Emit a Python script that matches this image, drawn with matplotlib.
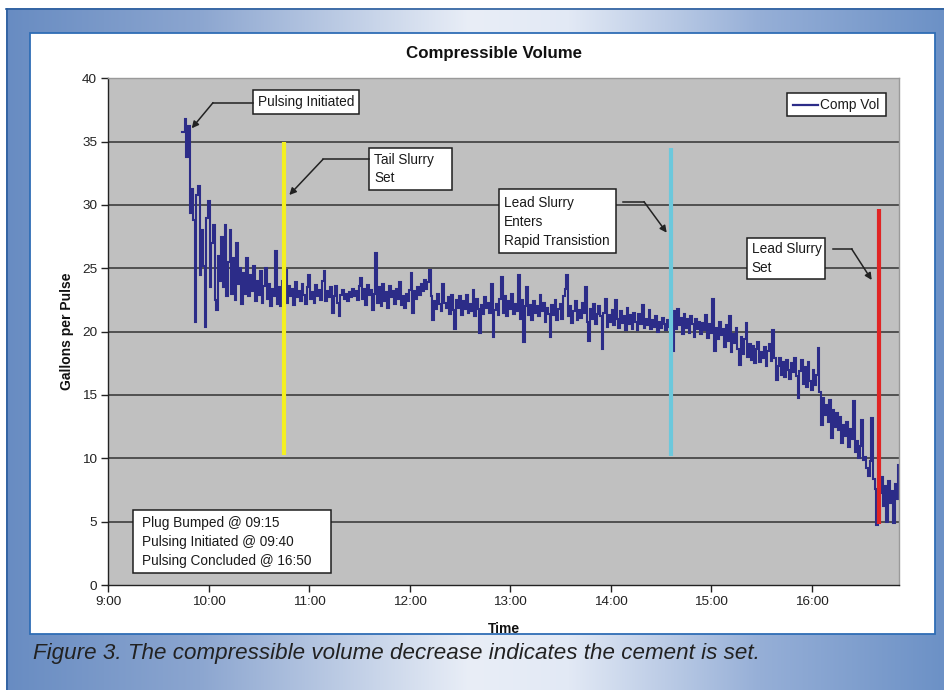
import numpy as np
import matplotlib
matplotlib.use("Agg")
import matplotlib.pyplot as plt
from matplotlib.patches import Rectangle

# ---------------- data ----------------
chart_title = "Compressible Volume"
series_name = "Comp Vol"
x_label = "Time"
y_label = "Gallons per Pulse"
start_time = "09:44"      # first sample
sample_step_min = 1       # one sample per minute
comp_vol = [
    35.8, 35.8, 36.8, 33.8, 36.2, 29.4, 31.3, 28.8, 20.8, 30.8,
    31.5, 24.5, 28.0, 25.2, 20.4, 29.0, 30.3, 23.5, 27.0, 28.4,
    22.5, 21.7, 26.0, 24.0, 27.5, 23.5, 28.4, 22.8, 25.5, 28.0,
    23.0, 25.8, 22.5, 27.0, 23.8, 25.0, 22.2, 24.6, 23.0, 25.8,
    22.8, 24.5, 23.2, 25.2, 22.4, 24.0, 22.9, 24.8, 22.3, 23.6,
    25.0, 22.6, 23.8, 22.0, 23.4, 22.8, 26.4, 22.2, 23.5, 22.0,
    24.0, 22.6, 24.9, 22.3, 23.6, 22.8, 23.4, 22.1, 23.9, 22.7,
    23.2, 22.4, 23.8, 22.9, 22.2, 23.5, 24.5, 22.6, 23.1, 22.3,
    23.7, 22.8, 23.3, 22.5, 24.0, 24.8, 22.4, 23.2, 22.7, 23.5,
    21.5, 22.8, 23.6, 22.3, 21.2, 22.9, 23.3, 22.6, 23.0, 22.4,
    23.1, 22.7, 23.4, 22.8, 23.2, 22.5, 23.6, 24.2, 22.6, 23.4,
    22.1, 23.7, 22.9, 23.3, 21.7, 23.0, 26.2, 22.3, 23.5, 22.0,
    23.8, 22.4, 23.1, 21.9, 23.6, 22.7, 23.2, 22.2, 23.4, 22.6,
    23.9, 22.1, 22.8, 21.9, 23.0, 22.4, 23.3, 24.6, 21.5, 23.2,
    22.6, 23.5, 22.9, 23.8, 23.2, 24.1, 23.4, 23.9, 24.9, 22.8,
    20.9, 22.4, 21.8, 23.0, 22.2, 21.6, 23.8, 22.3, 21.9, 22.7,
    21.4, 22.9, 21.7, 20.2, 22.5, 21.9, 22.8, 21.3, 22.4, 21.8,
    22.9, 21.5, 22.2, 21.6, 23.3, 21.2, 22.6, 21.8, 19.9, 22.1,
    21.4, 22.7, 21.9, 22.3, 21.5, 23.8, 19.6, 21.7, 22.2, 21.3,
    22.6, 24.3, 21.5, 22.8, 21.2, 22.4, 21.8, 23.0, 21.4, 22.2,
    21.6, 24.5, 21.0, 22.5, 19.2, 22.0, 23.5, 21.3, 22.1, 20.9,
    22.4, 21.5, 22.0, 21.2, 22.9, 21.6, 22.3, 20.8, 21.9, 21.4,
    19.6, 22.1, 21.3, 22.5, 20.9, 21.8, 22.2, 21.0, 22.8, 23.4,
    24.5, 21.2, 22.0, 20.7, 21.6, 22.4, 20.9, 21.7, 21.1, 22.3,
    21.5, 23.5, 20.8, 19.3, 21.8, 21.0, 22.2, 20.6, 21.4, 22.0,
    21.2, 18.6, 21.5, 22.6, 20.4, 21.3, 20.8, 21.7, 20.5, 22.5,
    21.0, 20.3, 21.6, 20.7, 21.2, 20.1, 21.9, 20.6, 21.3, 20.2,
    21.5, 20.8, 20.1, 21.4, 20.6, 22.1, 20.3, 21.0, 20.5, 21.7,
    20.2, 20.9, 20.4, 21.2, 20.0, 20.8, 20.3, 21.1, 20.6, 20.1,
    20.9, 20.4, 20.7, 18.5, 21.6, 20.2, 21.8, 20.5, 21.1, 19.8,
    21.4, 20.3, 21.0, 19.9, 21.2, 20.6, 19.6, 21.0, 20.2, 20.8,
    19.8, 20.7, 20.1, 21.3, 19.5, 20.6, 19.9, 22.6, 18.5, 20.3,
    19.4, 20.8, 19.7, 20.2, 18.8, 20.5, 19.3, 21.2, 18.4, 19.8,
    19.1, 20.3, 18.6, 17.4, 19.6, 18.2, 19.4, 20.7, 18.0, 19.0,
    17.8, 18.9, 17.5, 18.6, 19.2, 17.6, 18.4, 17.9, 18.8, 17.3,
    18.5, 19.0, 17.7, 20.1, 17.9, 16.2, 17.3, 17.9, 16.6, 17.6,
    16.4, 17.8, 17.0, 16.3, 17.5, 16.8, 17.9, 16.5, 14.8, 16.9,
    17.8, 15.9, 17.2, 15.6, 17.6, 16.1, 15.4, 17.0, 15.8, 16.6,
    18.7, 15.2, 12.6, 14.8, 13.4, 14.2, 12.9, 14.6, 11.6, 13.8,
    12.5, 13.6, 12.2, 13.3, 11.2, 12.6, 11.8, 12.9, 10.9, 12.3,
    11.5, 14.5, 10.5, 11.4, 10.0, 11.0, 13.0, 9.9, 10.1, 9.2,
    8.6, 9.8, 13.2, 8.4, 7.6, 4.7, 8.3, 7.3, 8.5, 6.2,
    7.8, 5.0, 8.2, 6.5, 7.4, 4.9, 8.0, 6.8, 9.5,
]
x_tick_labels = ["9:00", "10:00", "11:00", "12:00", "13:00", "14:00", "15:00", "16:00"]
x_end_time = "16:52"
y_ticks = [0, 5, 10, 15, 20, 25, 30, 35, 40]

event_labels = ["Tail Slurry\nSet", "Lead Slurry\nEnters\nRapid Transistion", "Lead Slurry\nSet"]
event_times = ["10:45", "14:36", "16:40"]
event_tops = [35.0, 34.5, 29.7]
event_bottoms = [10.3, 10.2, 4.8]
start_label = "Pulsing Initiated"
notes = ["Plug Bumped @ 09:15", "Pulsing Initiated @ 09:40", "Pulsing Concluded @ 16:50"]
caption = "Figure 3. The compressible volume decrease indicates the cement is set."


def to_min(s):
    h, m = s.split(":")
    return int(h) * 60 + int(m)


t0 = to_min(start_time)
times = [t0 + i * sample_step_min for i in range(len(comp_vol))]

# ---------------- style / layout ----------------
plt.rcParams["font.family"] = ["Liberation Sans", "DejaVu Sans"]
W, H = 945, 690
fig = plt.figure(figsize=(W / 100, H / 100), dpi=100)
fig.patch.set_facecolor("white")

bg = fig.add_axes([0, 0, 1, 1], zorder=0)
bg.axis("off")

# horizontal blue gradient frame
stops_x = [6, 200, 470, 570, 760, 945]
stops_c = np.array([[104, 140, 194], [140, 166, 208], [233, 238, 247],
                    [226, 233, 245], [150, 175, 215], [108, 145, 198]]) / 255.0
gx = np.linspace(6, 945, 400)
grad = np.stack([np.interp(gx, stops_x, stops_c[:, k]) for k in range(3)], axis=-1)[None, :, :]
bg.imshow(grad, extent=[6, 945, 690, 8.5], aspect="auto", interpolation="bilinear")
bg.plot([6, 945], [8.5, 8.5], color="#2b5e9e", lw=1.2)
bg.plot([6.5, 6.5], [8.5, 690], color="#2b5e9e", lw=1.2)
bg.add_patch(Rectangle((30, 32.5), 905, 601.5, facecolor="white", edgecolor="#2f6db5", lw=1.3))
bg.set_xlim(0, W)
bg.set_ylim(H, 0)

# ---------------- main chart ----------------
L, R, T, B = 108.3, 899.3, 78.3, 585.0
ax = fig.add_axes([L / W, 1 - B / H, (R - L) / W, (B - T) / H], zorder=1)
ax.set_facecolor("#c0c0c0")
x_ticks = [to_min(s) for s in x_tick_labels]
ax.set_xlim(x_ticks[0], to_min(x_end_time) + 0.2)
ax.set_ylim(y_ticks[0], y_ticks[-1])
for yv in y_ticks[1:-1]:
    ax.axhline(yv, color="#333333", lw=1.1, zorder=1)
ax.plot(times, comp_vol, color="#2c2c88", lw=1.5, zorder=2, drawstyle="steps-mid",
        solid_joinstyle="miter")

event_colors = ["#f4f020", "#6cc8dc", "#e02424"]
for t, lo, hi, c in zip(event_times, event_bottoms, event_tops, event_colors):
    ax.vlines(to_min(t), lo, hi, color=c, lw=3.0, zorder=3)

ax.set_xticks(x_ticks)
ax.set_xticklabels(x_tick_labels)
ax.set_yticks(y_ticks)
ax.set_yticklabels([str(v) for v in y_ticks])
ax.tick_params(direction="out", length=5, width=1, color="#222222",
               labelsize=9.7, labelcolor="#222222", pad=3)
for s in ["left", "bottom"]:
    ax.spines[s].set_color("#222222")
    ax.spines[s].set_linewidth(1.0)
for s in ["top", "right"]:
    ax.spines[s].set_color("#9a9a9a")
    ax.spines[s].set_linewidth(1.0)

# ---------------- overlay (annotations) ----------------
ov = fig.add_axes([0, 0, 1, 1], zorder=5)
ov.set_xlim(0, W)
ov.set_ylim(H, 0)
ov.axis("off")
ov.patch.set_alpha(0)

txt_kw = dict(fontsize=9.8, color="#1a1a1a", linespacing=1.45)


def box(x0, y0, x1, y1, text, tx=None):
    ov.add_patch(Rectangle((x0, y0), x1 - x0, y1 - y0, facecolor="white",
                           edgecolor="#1e1e1e", lw=1.1, zorder=6))
    ov.text(x0 + 5 if tx is None else tx, (y0 + y1) / 2 + 0.5, text, ha="left", va="center",
            zorder=7, **txt_kw)


def arrow(p0, p1, tip):
    ov.plot([p0[0], p1[0]], [p0[1], p1[1]], color="#222222", lw=1.1, zorder=6)
    ov.annotate("", xy=tip, xytext=p1, xycoords="data", textcoords="data",
                arrowprops=dict(arrowstyle="-|>", color="#222222", lw=1.1,
                                mutation_scale=10, shrinkA=0, shrinkB=0), zorder=6)


box(253, 90, 359, 113.5, start_label)
arrow((253, 102.7), (213, 102.7), (191.7, 128.3))

box(369, 147.5, 452, 189.5, event_labels[0])
arrow((369, 159.3), (323, 159.3), (289.3, 195))

box(499.3, 189.3, 615.7, 253.3, event_labels[1])
arrow((623.3, 201.7), (644, 201.7), (666.7, 232.7))

box(746.7, 237.7, 825, 279, event_labels[2])
arrow((833.3, 249), (851.7, 249), (871.7, 280))

box(133.3, 510, 330.7, 572.7, "\n".join(notes), tx=141.5)

# legend
ov.add_patch(Rectangle((786.7, 93.3), 99, 22.4, facecolor="white", edgecolor="#1e1e1e", lw=1.1, zorder=6))
ov.plot([793, 818], [104.5, 104.5], color="#2c2c88", lw=1.6, zorder=7)
ov.text(820, 105, series_name, ha="left", va="center", zorder=7, fontsize=9.8, color="#1a1a1a")

# titles / labels
ov.text(494, 53.5, chart_title, ha="center", va="center", fontsize=12.2,
        fontweight="bold", color="#111111")
ov.text(67.5, 331.5, y_label, ha="center", va="center", rotation=90, fontsize=10,
        fontweight="bold", color="#111111")
ov.text(503.8, 633, x_label, ha="center", va="baseline", fontsize=10,
        fontweight="bold", color="#111111")
ov.text(33, 653.5, caption, ha="left", va="center", fontsize=16.1, style="italic",
        color="#222222")

fig.savefig("out.png", dpi=100)
